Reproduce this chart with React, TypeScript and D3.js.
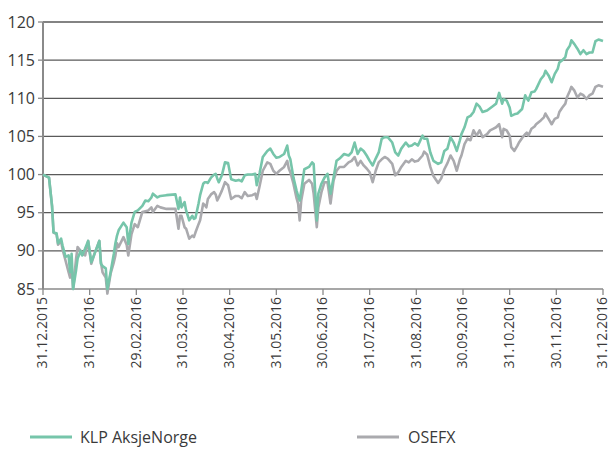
import React from "react";
import * as d3 from "d3";

const dates: string[] = [
  "2015-12-31","2016-01-04","2016-01-06","2016-01-07","2016-01-09","2016-01-10","2016-01-12","2016-01-13","2016-01-15","2016-01-17",
  "2016-01-18","2016-01-19","2016-01-20","2016-01-22","2016-01-23","2016-01-25","2016-01-26","2016-01-28","2016-01-30",
  "2016-02-01","2016-02-03","2016-02-06","2016-02-07","2016-02-08","2016-02-10","2016-02-11","2016-02-13","2016-02-15","2016-02-16",
  "2016-02-17","2016-02-18","2016-02-21","2016-02-23","2016-02-24","2016-02-26","2016-02-28",
  "2016-03-01","2016-03-04","2016-03-06","2016-03-08","2016-03-10","2016-03-11","2016-03-14","2016-03-16","2016-03-20","2016-03-26",
  "2016-03-28","2016-03-29","2016-03-30",
  "2016-04-01","2016-04-02","2016-04-04","2016-04-06","2016-04-07","2016-04-08","2016-04-10","2016-04-11","2016-04-13","2016-04-14",
  "2016-04-15","2016-04-16","2016-04-18","2016-04-20","2016-04-21","2016-04-22","2016-04-23","2016-04-25","2016-04-27","2016-04-29",
  "2016-05-01","2016-05-04","2016-05-06","2016-05-08","2016-05-10","2016-05-12","2016-05-15","2016-05-17","2016-05-18","2016-05-20",
  "2016-05-22","2016-05-25","2016-05-27","2016-05-29",
  "2016-05-31","2016-06-02","2016-06-05","2016-06-07","2016-06-08","2016-06-09","2016-06-11","2016-06-13","2016-06-14","2016-06-15",
  "2016-06-16","2016-06-18","2016-06-21","2016-06-23","2016-06-24","2016-06-26","2016-06-27","2016-06-29",
  "2016-07-01","2016-07-03","2016-07-05","2016-07-07","2016-07-09","2016-07-11","2016-07-14","2016-07-17","2016-07-19","2016-07-21",
  "2016-07-23","2016-07-25","2016-07-27","2016-07-29",
  "2016-07-31","2016-08-02","2016-08-04","2016-08-06","2016-08-08","2016-08-10","2016-08-12","2016-08-15","2016-08-17","2016-08-19",
  "2016-08-21","2016-08-24","2016-08-26","2016-08-28","2016-08-30",
  "2016-09-01","2016-09-04","2016-09-05","2016-09-07","2016-09-09","2016-09-11","2016-09-14","2016-09-16","2016-09-18","2016-09-20",
  "2016-09-22","2016-09-24","2016-09-26","2016-09-28","2016-09-29",
  "2016-10-01","2016-10-03","2016-10-05","2016-10-07","2016-10-09","2016-10-11","2016-10-13","2016-10-16","2016-10-18","2016-10-20",
  "2016-10-22","2016-10-24","2016-10-26","2016-10-27","2016-10-29",
  "2016-10-31","2016-11-01","2016-11-03","2016-11-05","2016-11-06","2016-11-08","2016-11-10","2016-11-11","2016-11-12","2016-11-14",
  "2016-11-16","2016-11-17","2016-11-20","2016-11-22","2016-11-23","2016-11-25","2016-11-27","2016-11-29",
  "2016-12-01","2016-12-02","2016-12-04","2016-12-06","2016-12-07","2016-12-09","2016-12-10","2016-12-12","2016-12-14","2016-12-16",
  "2016-12-18","2016-12-20","2016-12-22","2016-12-24","2016-12-26","2016-12-28","2016-12-31",
];

const klp: number[] = [
  100,99.6,95.9,92.4,92.3,91.0,91.6,90.7,89.2,89.4,
  87.2,89.6,85.0,87.5,89.0,90.0,89.4,90.3,91.3,
  88.5,89.6,91.3,88.3,88.0,87.7,85.0,87.2,89.6,91.0,
  92.0,92.7,93.7,93.1,90.9,93.7,95.1,
  95.3,95.9,96.6,96.5,97.0,97.5,97.0,97.2,97.3,97.4,
  95.5,97.0,95.7,
  96.4,95.3,94.0,94.6,94.2,94.3,96.2,97.3,98.8,99.0,
  99.0,98.9,99.6,100.0,100.1,99.5,99.0,99.9,101.6,101.5,
  99.4,99.2,99.3,99.1,99.9,100.0,100.0,100.1,98.6,100.3,
  102.3,103.1,103.4,102.7,
  102.2,102.3,102.7,103.8,102.5,102.0,99.6,97.9,97.2,96.6,
  97.9,100.7,101.0,101.6,101.4,94.0,97.5,98.8,
  99.6,100.1,97.5,99.6,101.8,102.1,102.7,102.5,102.9,104.2,
  102.7,103.4,103.1,102.5,
  101.8,101.2,102.1,102.9,104.7,104.9,104.9,104.2,102.9,102.5,
  103.4,104.2,103.7,103.8,104.1,
  103.8,105.1,104.7,104.7,102.9,101.8,101.4,101.6,103.1,103.4,
  104.9,104.2,103.1,104.5,105.3,
  106.2,107.5,107.7,108.2,109.3,108.9,108.2,108.4,108.7,109.0,
  109.3,110.7,109.3,109.9,109.7,
  108.8,107.7,107.9,108.0,108.2,108.6,110.4,110.0,109.7,110.8,
  110.9,111.2,112.5,113.0,113.6,113.0,112.1,113.2,
  113.9,114.7,115.0,115.4,116.3,116.9,117.6,117.1,116.5,115.8,
  116.3,115.8,116.0,116.0,117.5,117.7,117.5,
];

const osefx: number[] = [
  100,99.6,95.9,92.4,92.2,90.8,91.3,90.2,88.7,87.2,
  86.5,88.0,85.0,89.0,90.5,90.0,89.6,89.4,91.3,
  88.3,89.6,91.3,88.5,87.2,86.5,84.4,87.0,88.5,89.4,
  91.0,90.5,91.8,90.8,89.4,92.2,93.5,
  93.1,95.1,95.2,95.3,95.7,95.1,95.9,95.7,95.5,95.5,
  92.9,94.6,94.6,
  93.1,92.9,91.6,92.0,91.8,92.4,93.5,94.0,96.2,96.0,
  95.7,96.8,97.4,97.7,97.4,96.6,97.0,97.9,99.0,98.6,
  96.8,97.2,97.2,96.9,97.7,97.2,97.3,97.5,96.8,98.6,
  100.5,101.6,101.4,100.5,
  100.1,100.5,101.0,101.8,100.8,100.3,98.8,96.9,96.2,94.0,
  96.6,98.8,99.3,98.8,97.5,93.1,95.7,97.7,
  99.0,99.0,96.2,99.2,100.5,101.0,101.0,101.6,101.8,102.3,
  101.2,101.8,101.2,100.8,
  100.3,99.0,100.5,101.6,102.0,102.3,102.1,101.4,99.9,100.3,
  101.0,101.8,101.6,102.0,101.7,
  101.8,102.5,103.0,102.6,101.0,99.8,98.9,99.5,100.7,101.5,
  102.5,101.8,100.5,102.0,102.5,
  104.0,104.7,104.5,105.8,105.1,105.8,104.9,105.3,105.8,106.0,
  106.2,106.6,104.9,106.0,105.8,
  105.1,103.6,103.1,103.8,104.2,104.8,105.3,105.5,105.1,106.0,
  106.3,106.6,107.1,107.5,108.0,107.3,106.6,107.3,
  107.5,108.2,108.8,109.3,110.1,111.0,111.5,111.0,110.1,110.6,
  110.4,109.9,110.4,110.6,111.5,111.7,111.5,
];

const tickDates: string[] = [
  "2015-12-31","2016-01-31","2016-02-29","2016-03-31","2016-04-30","2016-05-31","2016-06-30",
  "2016-07-31","2016-08-31","2016-09-30","2016-10-31","2016-11-30","2016-12-31",
];
const tickLabels: string[] = [
  "31.12.2015","31.01.2016","29.02.2016","31.03.2016","30.04.2016","31.05.2016","30.06.2016",
  "31.07.2016","31.08.2016","30.09.2016","31.10.2016","30.11.2016","31.12.2016",
];
const yTicks: number[] = [85, 90, 95, 100, 105, 110, 115, 120];
const seriesNames: string[] = ["KLP AksjeNorge", "OSEFX"];

const GREEN = "#76c5aa";
const GRAY = "#aaaaae";
const FONT = "'Open Sans', 'Liberation Sans', sans-serif";
const TEXT = "#3a3a3a";

export default function App() {
  const W = 610, H = 449;
  const left = 43, right = 603, top = 22, bottom = 289;
  const parse = d3.timeParse("%Y-%m-%d");
  const tDates = tickDates.map((d) => parse(d) as Date);
  const x = d3
    .scaleTime()
    .domain(tDates)
    .range(tDates.map((_, i) => left + ((right - left) * i) / (tDates.length - 1)));
  const y = d3.scaleLinear().domain([85, 120]).range([bottom, top]);
  const pts = dates.map((d) => parse(d) as Date);
  const line = d3
    .line<number>()
    .x((_, i) => x(pts[i]))
    .y((v) => y(v));

  return (
    <svg
      width={W}
      height={H}
      style={{ position: "absolute", left: 0, top: 0 }}
      fontFamily={FONT}
    >
      <rect width={W} height={H} fill="#fff" />
      {yTicks.map((t) => (
        <g key={t}>
          <line x1={left} x2={right} y1={y(t)} y2={y(t)} stroke={t === 85 ? "#8a8a8a" : "#5a5a5a"} strokeWidth={1.3} />
          <line x1={left - 5} x2={left} y1={y(t)} y2={y(t)} stroke="#8a8a8a" strokeWidth={1.3} />
          <text x={35} y={y(t)} dy="0.35em" textAnchor="end" fontSize={16} fill={TEXT}>
            {t}
          </text>
        </g>
      ))}
      <line x1={left} x2={left} y1={top} y2={bottom} stroke="#8a8a8a" strokeWidth={2} />
      {tDates.map((d, i) => (
        <g key={i} transform={`translate(${x(d)},${bottom})`}>
          <line y1={0} y2={6} stroke="#8a8a8a" strokeWidth={1.3} />
          <text
            transform="translate(0,8) rotate(-90)"
            textAnchor="end"
            dy="0.32em"
            fontSize={14}
            fill={TEXT}
          >
            {tickLabels[i]}
          </text>
        </g>
      ))}
      <path d={line(osefx) || ""} fill="none" stroke={GRAY} strokeWidth={2.6} strokeLinejoin="round" />
      <path d={line(klp) || ""} fill="none" stroke={GREEN} strokeWidth={2.6} strokeLinejoin="round" />
      <g transform="translate(30,437)">
        <line x1={0} x2={42} y1={0} y2={0} stroke={GREEN} strokeWidth={3} />
        <text x={50} y={0} dy="0.35em" fontSize={16} fill={TEXT}>
          {seriesNames[0]}
        </text>
      </g>
      <g transform="translate(357,437)">
        <line x1={0} x2={42} y1={0} y2={0} stroke={GRAY} strokeWidth={3} />
        <text x={51} y={0} dy="0.35em" fontSize={16} fill={TEXT}>
          {seriesNames[1]}
        </text>
      </g>
    </svg>
  );
}
